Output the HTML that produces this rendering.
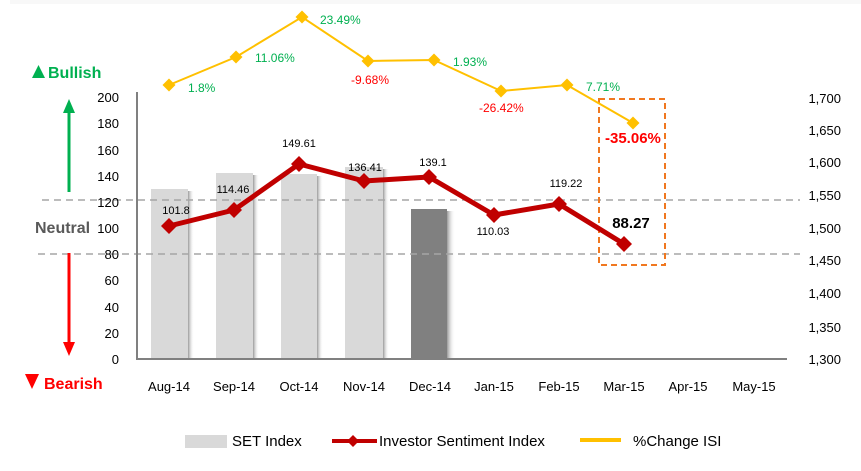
<!DOCTYPE html>
<html><head><meta charset="utf-8"><style>
html,body{margin:0;padding:0;background:#fff;}
svg{display:block;font-family:"Liberation Sans",Arial,sans-serif;}
</style></head><body>
<svg width="861" height="471" viewBox="0 0 861 471" xmlns="http://www.w3.org/2000/svg">
<defs>
<linearGradient id="sh" x1="0" x2="1" y1="0" y2="0">
<stop offset="0" stop-color="#9a9a9a"/><stop offset="1" stop-color="#ffffff" stop-opacity="0"/>
</linearGradient>
</defs>
<rect x="10" y="0" width="851" height="4" fill="#f8f8f8"/>
<!-- bars -->
<g>
<rect x="188" y="191" width="6" height="168" fill="url(#sh)"/>
<rect x="151" y="189" width="37" height="170" fill="#d9d9d9"/>
<rect x="253" y="175" width="6" height="184" fill="url(#sh)"/>
<rect x="216" y="173" width="37" height="186" fill="#d9d9d9"/>
<rect x="317" y="176" width="6" height="183" fill="url(#sh)"/>
<rect x="281" y="174" width="36" height="185" fill="#d9d9d9"/>
<rect x="383" y="169" width="6" height="190" fill="url(#sh)"/>
<rect x="345" y="167" width="38" height="192" fill="#d9d9d9"/>
<rect x="447" y="211" width="8" height="148" fill="url(#sh)"/>
<rect x="411" y="209" width="36" height="150" fill="#808080"/>
</g>
<!-- dashed lines -->
<line x1="42" y1="200" x2="800" y2="200" stroke="#a6a6a6" stroke-width="1.5" stroke-dasharray="7,5"/>
<line x1="38" y1="254" x2="800" y2="254" stroke="#a6a6a6" stroke-width="1.5" stroke-dasharray="7,5"/>
<!-- axes -->
<line x1="137" y1="92" x2="137" y2="360" stroke="#808080" stroke-width="2"/>
<line x1="136" y1="359" x2="787" y2="359" stroke="#808080" stroke-width="2"/>
<!-- left ticks -->
<g font-size="13" fill="#000" text-anchor="end">
<text x="119" y="102">200</text>
<text x="119" y="128">180</text>
<text x="119" y="155">160</text>
<text x="119" y="181">140</text>
<text x="119" y="207">120</text>
<text x="119" y="233">100</text>
<text x="119" y="259">80</text>
<text x="119" y="285">60</text>
<text x="119" y="312">40</text>
<text x="119" y="338">20</text>
<text x="119" y="364">0</text>
</g>
<!-- right ticks -->
<g font-size="13" fill="#000" text-anchor="end">
<text x="841" y="103">1,700</text>
<text x="841" y="135">1,650</text>
<text x="841" y="167">1,600</text>
<text x="841" y="200">1,550</text>
<text x="841" y="233">1,500</text>
<text x="841" y="265">1,450</text>
<text x="841" y="298">1,400</text>
<text x="841" y="332">1,350</text>
<text x="841" y="364">1,300</text>
</g>
<!-- x labels -->
<g font-size="13" fill="#000" text-anchor="middle">
<text x="169" y="391">Aug-14</text>
<text x="234" y="391">Sep-14</text>
<text x="299" y="391">Oct-14</text>
<text x="364" y="391">Nov-14</text>
<text x="430" y="391">Dec-14</text>
<text x="494" y="391">Jan-15</text>
<text x="559" y="391">Feb-15</text>
<text x="624" y="391">Mar-15</text>
<text x="688" y="391">Apr-15</text>
<text x="754" y="391">May-15</text>
</g>
<!-- Bullish / Neutral / Bearish -->
<polygon points="32,78 45,78 38.5,65" fill="#00b050"/>
<text x="48" y="78" font-size="16" font-weight="bold" fill="#00b050">Bullish</text>
<text x="35" y="233" font-size="16" font-weight="bold" fill="#595959">Neutral</text>
<polygon points="25,374 39,374 32,389" fill="#ff0000"/>
<text x="44" y="389" font-size="16" font-weight="bold" fill="#ff0000">Bearish</text>
<line x1="69" y1="192" x2="69" y2="110" stroke="#00b050" stroke-width="3"/>
<polygon points="63,113 75,113 69,99" fill="#00b050"/>
<line x1="69" y1="253" x2="69" y2="345" stroke="#ff0000" stroke-width="3"/>
<polygon points="63,342 75,342 69,356" fill="#ff0000"/>
<!-- orange box -->
<rect x="599" y="99" width="66" height="166" fill="none" stroke="#f07820" stroke-width="2" stroke-dasharray="6,4"/>
<!-- yellow line -->
<polyline points="169,85 236,57 302,17 368,61 434,60 501,91 567,85 633,123" fill="none" stroke="#ffc000" stroke-width="2"/>
<g fill="#ffc000">
<polygon points="169,78.5 175.5,85 169,91.5 162.5,85"/>
<polygon points="236,50.5 242.5,57 236,63.5 229.5,57"/>
<polygon points="302,10.5 308.5,17 302,23.5 295.5,17"/>
<polygon points="368,54.5 374.5,61 368,67.5 361.5,61"/>
<polygon points="434,53.5 440.5,60 434,66.5 427.5,60"/>
<polygon points="501,84.5 507.5,91 501,97.5 494.5,91"/>
<polygon points="567,78.5 573.5,85 567,91.5 560.5,85"/>
<polygon points="633,116.5 639.5,123 633,129.5 626.5,123"/>
</g>
<!-- yellow labels -->
<g font-size="12">
<text x="188" y="92" fill="#00b050">1.8%</text>
<text x="255" y="62" fill="#00b050">11.06%</text>
<text x="320" y="24" fill="#00b050">23.49%</text>
<text x="351" y="84" fill="#ff0000">-9.68%</text>
<text x="453" y="66" fill="#00b050">1.93%</text>
<text x="479" y="112" fill="#ff0000">-26.42%</text>
<text x="586" y="91" fill="#00b050">7.71%</text>
</g>
<text x="605" y="143" font-size="15" font-weight="bold" fill="#ff0000">-35.06%</text>
<!-- red line -->
<polyline points="169,226 234,210 299,164 364,181 429,177 494,215 559,204 624,244" fill="none" stroke="#c00000" stroke-width="5" stroke-linejoin="round"/>
<g fill="#c00000">
<polygon points="169,218 177,226 169,234 161,226"/>
<polygon points="234,202 242,210 234,218 226,210"/>
<polygon points="299,156 307,164 299,172 291,164"/>
<polygon points="364,173 372,181 364,189 356,181"/>
<polygon points="429,169 437,177 429,185 421,177"/>
<polygon points="494,207 502,215 494,223 486,215"/>
<polygon points="559,196 567,204 559,212 551,204"/>
<polygon points="624,236 632,244 624,252 616,244"/>
</g>
<!-- red labels -->
<g font-size="11" fill="#000" text-anchor="middle">
<text x="176" y="214">101.8</text>
<text x="233" y="193">114.46</text>
<text x="299" y="147">149.61</text>
<text x="365" y="171">136.41</text>
<text x="433" y="166">139.1</text>
<text x="493" y="235">110.03</text>
<text x="566" y="187">119.22</text>
</g>
<text x="631" y="228" font-size="15" font-weight="bold" fill="#000" text-anchor="middle">88.27</text>
<!-- legend -->
<rect x="185" y="435" width="42" height="13" fill="#d9d9d9"/>
<text x="232" y="446" font-size="15" fill="#000">SET Index</text>
<line x1="332" y1="441" x2="377" y2="441" stroke="#c00000" stroke-width="4"/>
<polygon points="353,435 359,441 353,447 347,441" fill="#c00000"/>
<text x="379" y="446" font-size="15" fill="#000">Investor Sentiment Index</text>
<line x1="580" y1="440" x2="621" y2="440" stroke="#ffc000" stroke-width="4"/>
<text x="633" y="446" font-size="15" fill="#000">%Change ISI</text>
</svg>
</body></html>
